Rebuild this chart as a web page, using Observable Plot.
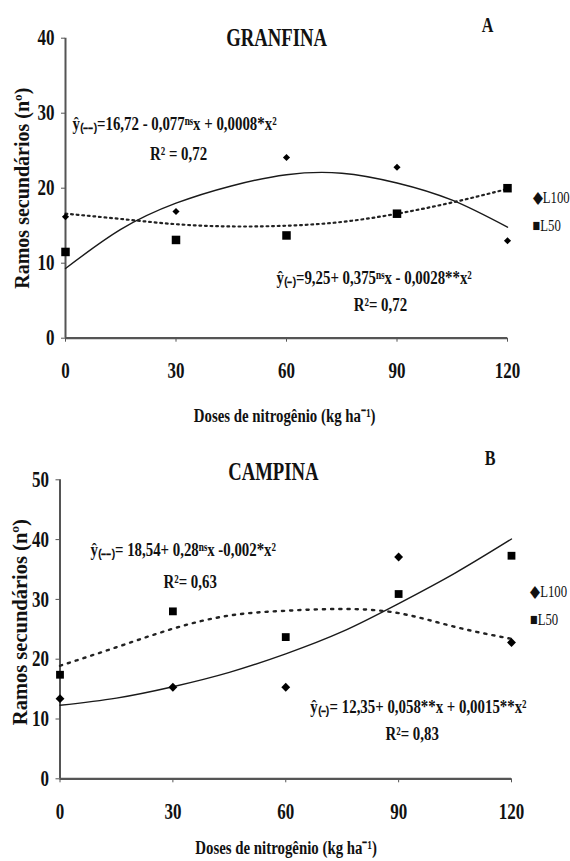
<!DOCTYPE html>
<html><head><meta charset="utf-8">
<script src="https://cdn.jsdelivr.net/npm/d3@7"></script>
<script src="https://cdn.jsdelivr.net/npm/@observablehq/plot@0.6"></script>
<style>
html,body{margin:0;padding:0;background:#fff;}
#chart{width:570px;}
#chart svg{display:block;overflow:visible;}
</style></head><body><div id="chart"></div>
<script>
// ---- data ----
const doses = [0, 30, 60, 90, 120];
const doseTicks = [0, 30, 60, 90, 120];
const granfinaTicks = [0, 10, 20, 30, 40];
const campinaTicks = [0, 10, 20, 30, 40, 50];

const granfinaL100 = [16.2, 16.9, 24.1, 22.8, 13.0];
const granfinaL50 = [11.5, 13.1, 13.7, 16.6, 20.0];
const campinaL100 = [13.4, 15.3, 15.3, 37.1, 22.8];
const campinaL50 = [17.4, 28.0, 23.7, 30.9, 37.3];

const curveDoses = [0, 15, 30, 45, 60, 75, 90, 105, 120];
const granfinaSolid = [9.3, 14.5, 18.0, 20.3, 21.8, 22.0, 20.7, 18.4, 14.8];
const granfinaDotted = [16.6, 15.9, 15.2, 14.9, 15.0, 15.5, 16.6, 18.1, 19.9];
const campinaSolid = [12.3, 13.5, 15.4, 17.8, 20.9, 24.6, 29.3, 34.4, 40.1];
const campinaDotted = [18.9, 22.0, 25.1, 27.3, 28.1, 28.4, 27.7, 25.4, 23.4];

const FONT = "Liberation Serif, Times New Roman, serif";

function pts(xs, ys) { return xs.map((x, i) => ({x, y: ys[i]})); }

function panel(cfg) {
  const txt = (items, opts) => Plot.text(items, {
    x: "x", y: "y", text: "t", fill: "#111", fontFamily: FONT, ...opts
  });
  const svg = Plot.plot({
    width: 570,
    height: cfg.height,
    marginTop: cfg.mt, marginBottom: cfg.mb, marginLeft: cfg.ml, marginRight: cfg.mr,
    x: {domain: [0, 120], ticks: doseTicks, tickSize: 4, tickPadding: 20, label: null},
    y: {domain: cfg.ydomain, ticks: cfg.yticks, tickSize: 4, tickPadding: 7, label: null},
    style: {fontFamily: FONT, fontSize: "20px", fontWeight: "bold", background: "#fff", color: "#111"},
    marks: [
      Plot.ruleX([0], {stroke: "#555", strokeWidth: 2}),
      Plot.ruleY([0], {stroke: "#555", strokeWidth: 2.2}),
      Plot.line(pts(curveDoses, cfg.solid), {x: "x", y: "y", curve: "natural", stroke: "#1a1a1a", strokeWidth: 1.4}),
      Plot.line(pts(curveDoses, cfg.dotted), {x: "x", y: "y", curve: "natural", stroke: "#222", strokeWidth: cfg.dotW, strokeDasharray: cfg.dash}),
      Plot.dot(pts(doses, cfg.l100), {x: "x", y: "y", symbol: "diamond2", r: cfg.dr, fill: "#000", stroke: "none"}),
      Plot.dot(pts(doses, cfg.l50), {x: "x", y: "y", symbol: "square", r: cfg.sr, fill: "#000", stroke: "none"}),
      txt([cfg.title], {fontSize: 22, fontWeight: "bold", textAnchor: "middle"}),
      txt([cfg.letter], {fontSize: 19, fontWeight: "bold", textAnchor: "middle"}),
      txt(cfg.eqs, {fontSize: 17.5, fontWeight: "bold", textAnchor: "start"}),
      txt(cfg.r2s, {fontSize: 17.5, fontWeight: "bold", textAnchor: "middle"}),
      txt(cfg.legend, {fontSize: 15, fontWeight: "normal", textAnchor: "start"}),
      txt([cfg.xlabel], {fontSize: 17.5, fontWeight: "bold", textAnchor: "middle"}),
      txt([cfg.ylabel], {fontSize: cfg.ylabelSize, fontWeight: "bold", textAnchor: "middle", rotate: -90})
    ]
  });
  // axis styling
  svg.querySelectorAll('g[aria-label^="x-axis"], g[aria-label^="y-axis"]').forEach(g => {
    g.style.fontSize = "20px";
    g.style.fontFamily = FONT;
    g.style.fontWeight = "bold";
    g.style.color = "#555";
    g.querySelectorAll("text").forEach(t => { t.style.fill = "#111"; });
  });
  // condense text like the reference's narrow bold serif
  svg.querySelectorAll("text").forEach(t => {
    const tr = t.getAttribute("transform");
    if (tr && /rotate/.test(tr)) return;
    if (tr) {
      t.setAttribute("transform", `${tr} scale(0.85,1.12)`);
    } else {
      const x = parseFloat(t.getAttribute("x")) || 0, y = parseFloat(t.getAttribute("y")) || 0;
      t.setAttribute("transform", `translate(${x},${y}) scale(0.85,1.12)`);
      t.removeAttribute("x"); t.removeAttribute("y");
    }
  });
  return svg;
}

const ylab = "Ramos secundários (nº)";
const xlab = "Doses de nitrogênio (kg ha⁻¹)";

const A = panel({
  height: 430, mt: 37.7, mb: 92.3, ml: 65, mr: 63,
  ydomain: [0, 40], yticks: granfinaTicks,
  solid: granfinaSolid, dotted: granfinaDotted,
  l100: granfinaL100, l50: granfinaL50,
  dotW: 2.2, dash: "1.8 3.8", dr: 3.2, sr: 4.8,
  title: {x: 57.3, y: 40.0, t: "GRANFINA"},
  letter: {x: 114.6, y: 41.7, t: "A"},
  eqs: [
    {x: 1.9, y: 28.6, t: "ŷ₍₋₋₎=16,72 - 0,077ⁿˢx + 0,0008*x²"},
    {x: 57.3, y: 8.1, t: "ŷ₍₋₎=9,25+ 0,375ⁿˢx - 0,0028**x²"}
  ],
  r2s: [
    {x: 30.7, y: 24.6, t: "R² = 0,72"},
    {x: 85.5, y: 4.4, t: "R²= 0,72"}
  ],
  legend: [
    {x: 126.8, y: 18.8, t: "◆L100"},
    {x: 126.8, y: 15.0, t: "■L50"}
  ],
  xlabel: {x: 59.5, y: -10.3, t: xlab},
  ylabel: {x: -11.7, y: 20, t: ylab}, ylabelSize: 20
});

const B = panel({
  height: 431, mt: 49.3, mb: 82.7, ml: 59.5, mr: 59,
  ydomain: [0, 50], yticks: campinaTicks,
  solid: campinaSolid, dotted: campinaDotted,
  l100: campinaL100, l50: campinaL50,
  dotW: 2.4, dash: "2.2 6", dr: 4, sr: 4.4,
  title: {x: 56.7, y: 51.3, t: "CAMPINA"},
  letter: {x: 114.3, y: 53.6, t: "B"},
  eqs: [
    {x: 8.1, y: 38.3, t: "ŷ₍₋₋₎= 18,54+ 0,28ⁿˢx -0,002*x²"},
    {x: 66.5, y: 12.0, t: "ŷ₍₋₎= 12,35+ 0,058**x + 0,0015**x²"}
  ],
  r2s: [
    {x: 34.6, y: 32.9, t: "R²= 0,63"},
    {x: 93.6, y: 7.6, t: "R²= 0,83"}
  ],
  legend: [
    {x: 124.9, y: 31.3, t: "◆L100"},
    {x: 124.9, y: 26.6, t: "■L50"}
  ],
  xlabel: {x: 60.1, y: -11.6, t: xlab},
  ylabel: {x: -10.5, y: 26.2, t: ylab}, ylabelSize: 20.5
});

const root = document.getElementById("chart");
root.appendChild(A);
root.appendChild(B);
</script></body></html>
